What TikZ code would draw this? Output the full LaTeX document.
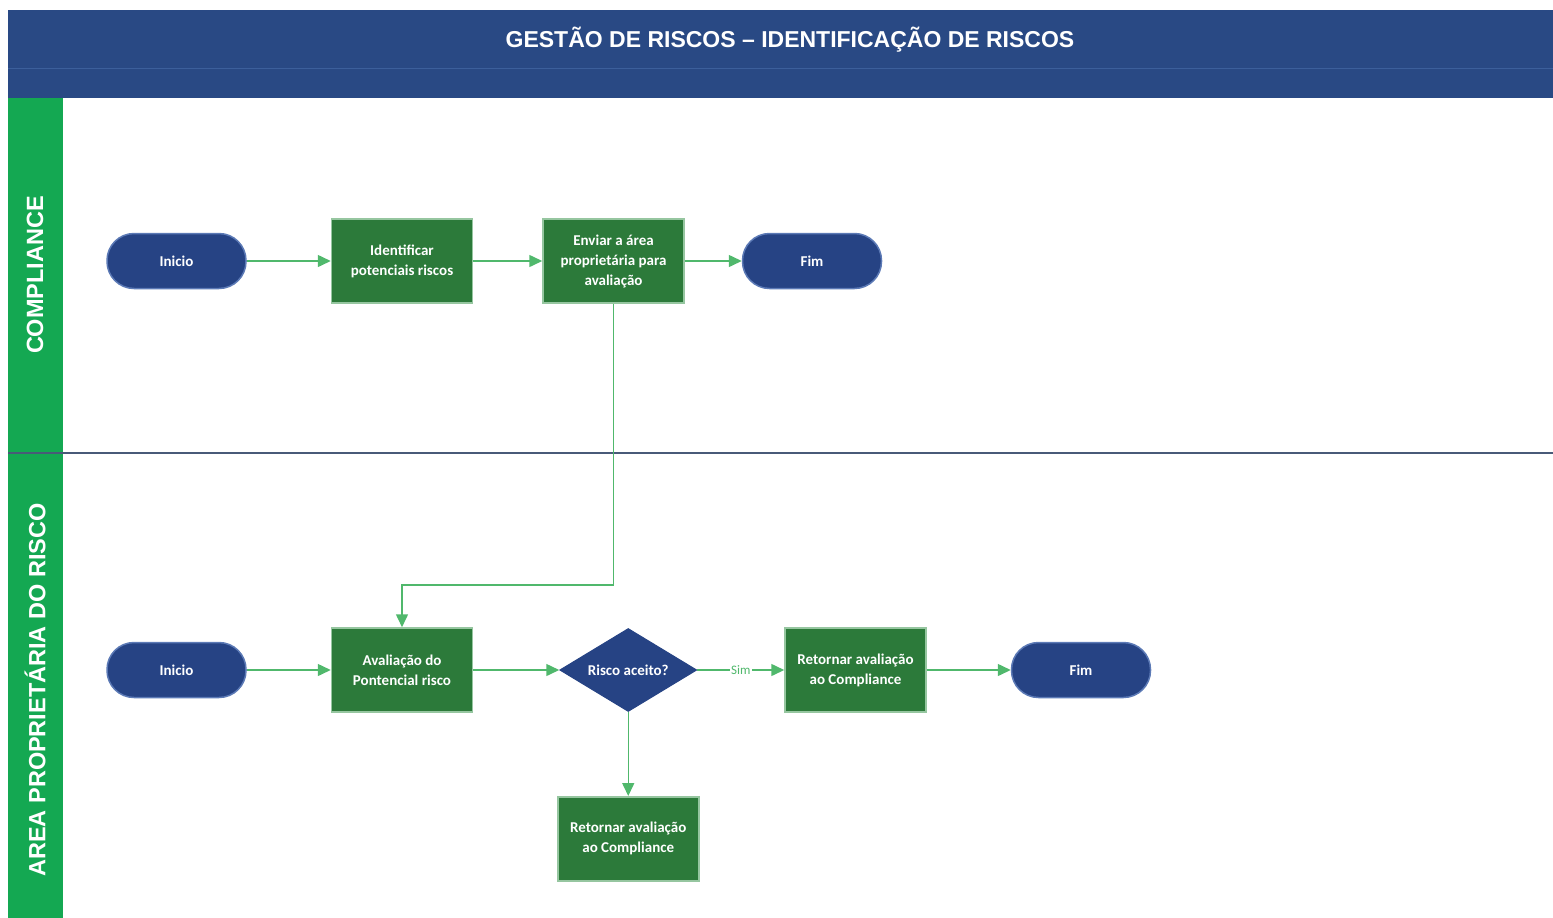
\documentclass[tikz,border=0pt]{standalone}
\usepackage{fontspec}
\setmainfont{Carlito}
\newfontfamily\headfont{Liberation Sans}
\usetikzlibrary{arrows.meta,positioning,shapes.geometric}
\definecolor{barblue}{RGB}{41,73,132}
\definecolor{barline}{RGB}{60,95,155}
\definecolor{lanegreen}{RGB}{20,168,82}
\definecolor{boxgreen}{RGB}{44,122,58}
\definecolor{boxedge}{RGB}{150,198,160}
\definecolor{pillblue}{RGB}{38,67,132}
\definecolor{pilledge}{RGB}{92,122,182}
\definecolor{flowgreen}{RGB}{80,184,108}
\definecolor{divider}{RGB}{72,90,120}

\begin{document}
\begin{tikzpicture}[x=1pt, y=-1pt,
  every node/.style = {font=\bfseries\fontsize{15}{20}\selectfont, text=white},
  task/.style    = {rectangle, draw=boxedge, line width=1.5pt, fill=boxgreen,
                    minimum width=141pt, minimum height=84pt, align=center,
                    inner sep=2pt},
  terminal/.style= {rectangle, rounded corners=27pt, draw=pilledge,
                    line width=1.5pt, fill=pillblue,
                    minimum width=139pt, minimum height=55pt},
  decision/.style= {diamond, fill=pillblue, draw=pillblue, line width=1pt,
                    minimum width=137pt, minimum height=83pt, inner sep=0pt,
                    aspect=1.65},
  lane/.style    = {rotate=90, font=\headfont\bfseries\fontsize{23.5}{26}\selectfont},
  flow/.style    = {-{Triangle[length=13pt,width=12pt]}, draw=flowgreen,
                    line width=1.5pt},
]
  \useasboundingbox (0,0) rectangle (1553,918);

  % title bar and swimlanes
  \fill[barblue] (8,10) rectangle (1553,98);
  \draw[barline, line width=1pt] (8,68) -- (1553,68);
  \node[font=\headfont\bfseries\fontsize{23}{26}\selectfont] (title) at (790,40)
    {GESTÃO DE RISCOS – IDENTIFICAÇÃO DE RISCOS};
  \fill[lanegreen] (8,98) rectangle (63,918);
  \draw[divider, line width=1.5pt] (8,453) -- (1553,453);
  \node[lane] (laneA) at (35,275) {COMPLIANCE};
  \node[lane] (laneB) at (35,690) {AREA PROPRIETÁRIA DO RISCO};

  % lane 1
  \node[terminal] (inicioA) at (176.5,261) {Inicio};
  \node[task, right=84pt of inicioA] (identificar)
    {Identificar\\potenciais riscos};
  \node[task, right=69pt of identificar] (enviar)
    {Enviar a área\\proprietária para\\avaliação};
  \node[terminal, right=57pt of enviar] (fimA) {Fim};

  % lane 2
  \node[terminal] (inicioB) at (176.5,670) {Inicio};
  \node[task, right=84pt of inicioB] (avaliacao)
    {Avaliação do\\Pontencial risco};
  \node[decision, right=86pt of avaliacao] (aceito) {Risco aceito?};
  \node[task, right=87pt of aceito] (retornarA)
    {Retornar avaliação\\ao Compliance};
  \node[terminal, right=84pt of retornarA] (fimB) {Fim};
  \node[task, below=84pt of aceito] (retornarB)
    {Retornar avaliação\\ao Compliance};

  \draw[flow] (inicioA) -- (identificar);
  \draw[flow] (identificar) -- (enviar);
  \draw[flow] (enviar) -- (fimA);
  \draw[flow] (enviar.south) -- ++(0,281) -| (avaliacao.north);
  \draw[flow] (inicioB) -- (avaliacao);
  \draw[flow] (avaliacao) -- (aceito);
  \draw[flow] (aceito) -- node[fill=white, inner sep=1.5pt, text=flowgreen,
    font=\fontsize{13}{15}\selectfont]{Sim} (retornarA);
  \draw[flow] (retornarA) -- (fimB);
  \draw[flow] (aceito) -- (retornarB);
\end{tikzpicture}
\end{document}
